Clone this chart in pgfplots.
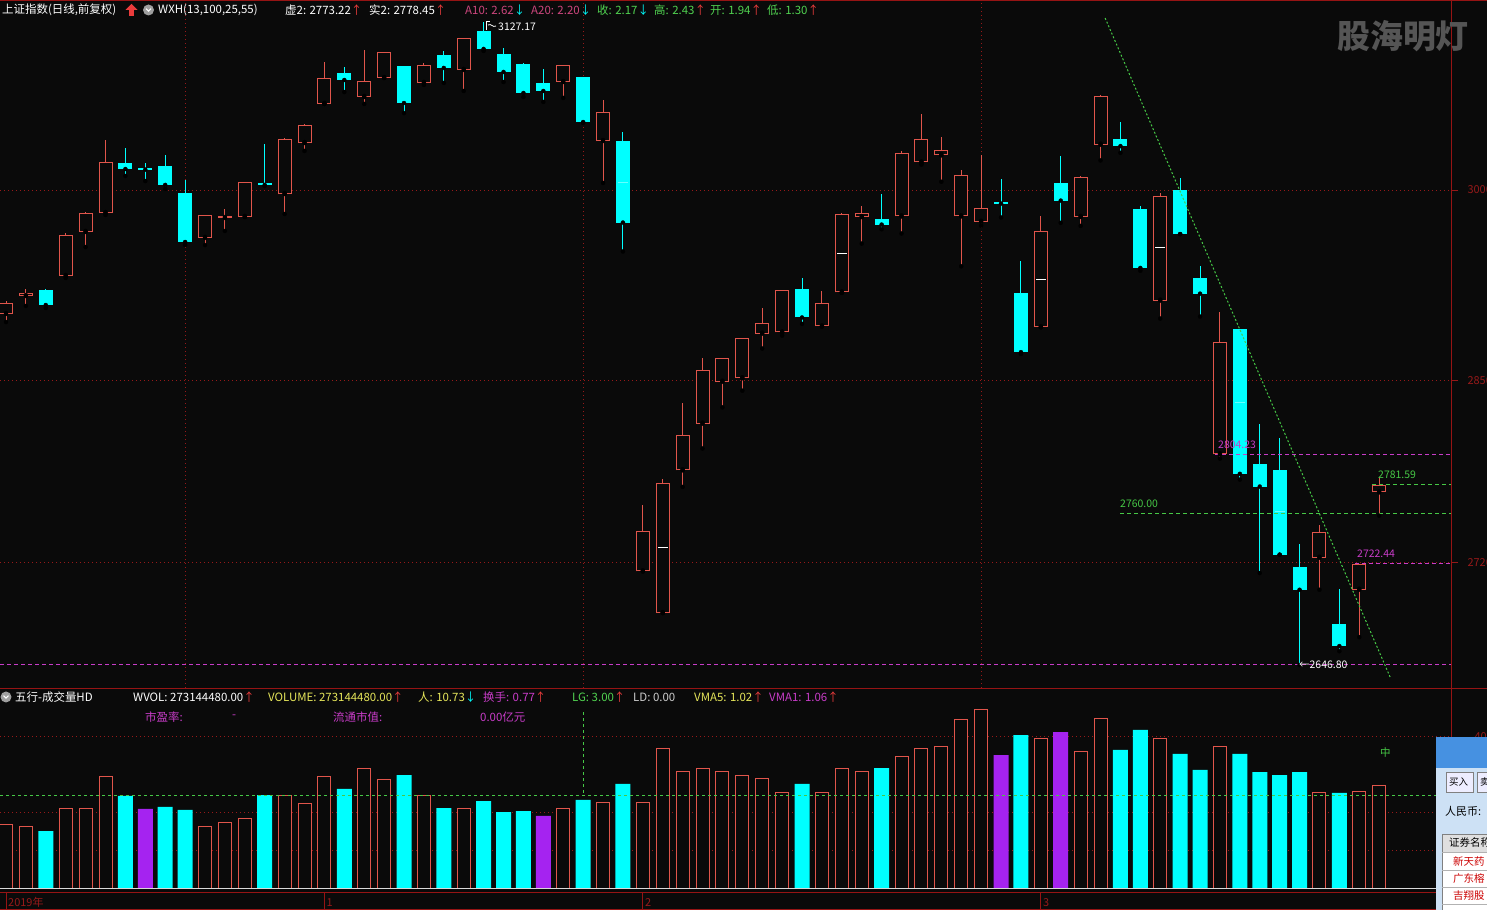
\documentclass[border=0pt]{standalone}
\usepackage{fontspec}
\setmainfont{Noto Sans CJK SC}
\usepackage{pgfplots}
\pgfplotsset{compat=1.18}
\usepackage{pgfplotstable}
\definecolor{bg}{RGB}{10,10,10}
\definecolor{cred}{RGB}{225,85,75}
\definecolor{ccyan}{RGB}{0,255,255}
\definecolor{cpurple}{RGB}{165,35,240}
\definecolor{gridred}{RGB}{150,25,25}
\definecolor{linered}{RGB}{150,20,20}
\definecolor{dgreen}{RGB}{70,200,70}
\definecolor{dmag}{RGB}{200,60,200}
\definecolor{tpink}{RGB}{205,70,125}
\definecolor{tgreen}{RGB}{80,210,80}
\definecolor{tyellow}{RGB}{230,230,90}
\definecolor{tmag}{RGB}{200,60,200}
\definecolor{arrred}{RGB}{235,60,60}
\definecolor{wmgray}{RGB}{85,85,85}
\definecolor{winblue}{RGB}{70,145,225}
\definecolor{winbody}{RGB}{205,225,245}

% up days (open, high, low, close)
\pgfplotstableread{
i o h l c
1 2909.0 2918.7 2903.0 2917.2
2 2922.4 2927.7 2915.0 2924.7
4 2937.4 2969.5 2935.9 2968.0
5 2970.3 2985.2 2959.0 2984.4
6 2984.4 3039.0 2983.0 3022.5
11 2965.8 2983.0 2960.5 2983.0
12 2980.7 2987.4 2971.0 2982.2
13 2981.5 3007.6 2981.5 3007.6
15 2998.6 3040.5 2983.7 3039.7
16 3036.7 3050.9 3030.8 3050.2
17 3065.9 3097.2 3065.9 3085.3
19 3071.1 3106.2 3065.9 3083.1
20 3085.3 3104.7 3085.3 3104.7
22 3081.6 3096.5 3080.1 3095.0
24 3091.3 3115.2 3075.6 3115.2
29 3082.3 3095.0 3070.4 3095.0
31 3038.2 3068.9 3006.9 3059.9
33 2716.7 2766.3 2716.7 2746.6
34 2685.6 2785.7 2685.6 2783.1
35 2792.2 2842.5 2779.8 2818.3
36 2827.1 2876.1 2808.5 2866.9
37 2858.4 2876.0 2839.2 2876.0
38 2861.0 2890.9 2851.7 2890.9
39 2894.4 2913.6 2883.2 2902.1
40 2895.2 2926.9 2892.8 2926.6
42 2899.7 2926.2 2899.7 2917.1
43 2925.1 2984.5 2924.7 2983.5
44 2981.4 2989.7 2961.6 2984.8
46 2981.9 3030.5 2969.1 3029.6
47 3022.2 3058.5 3020.6 3039.5
48 3027.5 3041.2 3007.8 3031.2
49 2981.9 3016.3 2944.6 3012.5
50 2977.9 3027.8 2975.0 2988.0
53 2899.1 2982.2 2899.1 2970.7
55 2981.5 3012.1 2974.8 3011.7
56 3035.5 3072.7 3023.7 3071.6
59 2919.0 2999.5 2905.6 2997.1
62 2804.2 2910.6 2801.0 2887.9
67 2726.9 2751.6 2703.0 2745.8
69 2703.0 2722.5 2667.6 2722.5
70 2775.7 2786.5 2758.3 2781.5
}\uptab

% down days (open, high, low, close)
\pgfplotstableread{
i o h l c
3 2926.9 2927.3 2913.5 2915.7
7 3021.8 3033.0 3012.1 3017.3
8 3017.7 3021.8 3008.3 3016.9
9 3019.6 3027.8 3002.4 3005.4
10 2999.4 3009.1 2960.5 2962.8
14 3006.9 3036.0 3004.6 3005.4
18 3089.0 3093.5 3074.8 3083.8
21 3094.3 3094.3 3059.1 3066.6
23 3102.5 3105.5 3081.6 3092.8
25 3120.4 3127.17 3105.5 3107.0
26 3103.2 3107.7 3082.3 3089.8
27 3095.7 3096.5 3071.1 3074.1
28 3081.6 3092.0 3067.4 3075.6
30 3086.0 3086.0 3051.7 3052.4
32 3038.2 3045.0 2955.7 2977.3
41 2927.7 2936.0 2901.6 2906.4
45 2980.0 2998.4 2972.3 2975.8
51 2992.3 3009.6 2981.1 2991.5
52 2924.5 2948.3 2879.1 2880.5
54 3006.8 3027.1 2977.1 2993.7
57 3039.6 3052.4 3029.4 3034.4
58 2987.3 2989.3 2941.3 2943.4
60 3001.6 3010.3 2968.7 2968.7
61 2935.9 2944.9 2907.1 2924.2
63 2897.8 2897.8 2785.3 2789.6
64 2796.6 2827.1 2715.5 2780.1
65 2792.2 2816.4 2729.2 2729.2
66 2719.9 2737.0 2646.8 2703.0
68 2677.7 2703.6 2657.1 2660.9
}\downtab

% volumes
\pgfplotstableread{
i v
1 1684
2 1631
4 2130
5 2130
6 2946
11 1631
12 1762
13 1867
15 2472
16 2236
17 2946
19 3156
20 2867
22 2446
24 2130
29 2130
31 2262
33 2262
34 3682
35 3103
36 3182
37 3103
38 2998
39 2893
40 2525
42 2525
43 3156
44 3103
46 3472
47 3708
48 3735
49 4445
50 4708
53 3971
55 3629
56 4497
59 3971
62 3735
67 2525
69 2577
70 2735
}\volred

\pgfplotstableread{
i v
3 1525
7 2446
9 2157
10 2078
14 2472
18 2630
21 2998
23 2130
25 2314
26 2025
27 2051
30 2341
32 2762
41 2762
45 3182
52 4050
57 3656
58 4182
60 3551
61 3130
63 3551
64 3077
65 2998
66 3077
68 2525
}\volcyan

\pgfplotstableread{
i v
8 2104
28 1920
51 3524
54 4129
}\volpurple

\begin{document}
\begin{tikzpicture}[font=\fontsize{11.5}{13}\selectfont]
\useasboundingbox (0bp,0bp) rectangle (1487bp,910bp);
\fill[bg] (0bp,0bp) rectangle (1487bp,910bp);

% ---------------- price panel ----------------
\begin{axis}[at={(0bp,222bp)}, anchor=south west, scale only axis,
  width=1451bp, height=688bp,
  xmin=0.6985, xmax=73.611, ymin=2629.6, ymax=3143.56,
  axis line style={draw=none},
  xtick={10,30,50}, xticklabels={}, xmajorgrids, xtick style={draw=none},
  ytick={2723.0,2858.95,3001.6}, yticklabels={2720,2850,3000},
  ytick pos=right, ymajorgrids, tick align=outside, major tick length=7bp,
  ytick style={draw=gridred, line width=1bp},
  yticklabel style={text=gridred, font=\fontsize{11}{12}\selectfont, xshift=6bp},
  grid style={gridred, line width=1bp, dash pattern=on 1bp off 3bp},
]
% wicks
\addplot[only marks, mark=none, error bars/.cd, y dir=plus, y explicit, error mark=none,
  error bar style={draw=cred, line width=1bp}]
  table[x=i, y=l, y error expr=\thisrow{h}-\thisrow{l}] {\uptab};
\addplot[only marks, mark=none, error bars/.cd, y dir=plus, y explicit, error mark=none,
  error bar style={draw=ccyan, line width=1bp}]
  table[x=i, y=l, y error expr=\thisrow{h}-\thisrow{l}] {\downtab};
% up bodies (hollow)
\addplot[only marks, mark=none, error bars/.cd, y dir=plus, y explicit, error mark=none,
  error bar style={draw=cred, line width=14bp}]
  table[x=i, y=o, y error expr=\thisrow{c}-\thisrow{o}] {\uptab};
\addplot[only marks, mark=none, error bars/.cd, y dir=plus, y explicit, error mark=none,
  error bar style={draw=bg, line width=12bp}]
  table[x=i, y expr=\thisrow{o}+0.75, y error expr={max(\thisrow{c}-\thisrow{o}-1.5,0)}] {\uptab};
% down bodies (filled)
\addplot[only marks, mark=none, error bars/.cd, y dir=plus, y explicit, error mark=none,
  error bar style={draw=ccyan, line width=14bp}]
  table[x=i, y=c, y error expr=\thisrow{o}-\thisrow{c}] {\downtab};
% mid marks
\addplot[only marks, mark=-, mark size=5bp, white, mark options={line width=1bp}]
  coordinates {(34,2734.9) (43,2954.4) (53,2934.9) (59,2958.3)};
\addplot[only marks, mark=-, mark size=5bp, white!40!ccyan, mark options={line width=1bp}]
  coordinates {(32,3007.2) (63,2843.1) (65,2761.1)};
% reference lines
\addplot[dmag, line width=1bp, dash pattern=on 4bp off 3bp] coordinates {(0.6985,2646.8) (73.611,2646.8)};
\addplot[dmag, line width=1bp, dash pattern=on 4bp off 3bp] coordinates {(61.75,2804.23) (73.611,2804.23)};
\addplot[dgreen, line width=1bp, dash pattern=on 4bp off 3bp] coordinates {(56.98,2760) (73.611,2760)};
\addplot[dgreen, line width=1bp, dash pattern=on 4bp off 3bp] coordinates {(69.64,2781.59) (73.611,2781.59)};
\addplot[dmag, line width=1bp, dash pattern=on 4bp off 3bp] coordinates {(68.79,2722.44) (73.611,2722.44)};
\addplot[dgreen, line width=1bp, dash pattern=on 2bp off 2bp] coordinates {(56.23,3130.1) (70.55,2637.8)};
\end{axis}

% ---------------- volume panel ----------------
\begin{axis}[at={(0bp,17bp)}, anchor=south west, scale only axis,
  width=1451bp, height=205bp,
  xmin=0.6985, xmax=73.611, ymin=-105.2, ymax=5286.3,
  axis line style={draw=none},
  xtick={1,17,33,53}, xticklabels={2019年,1,2,3}, xtick pos=bottom,
  tick align=outside, major tick length=16bp,
  xtick style={draw=linered, line width=1bp},
  xticklabel style={text=gridred, anchor=base west, inner sep=0pt, xshift=2bp, yshift=3bp,
     font=\fontsize{11}{12}\selectfont},
  ytick={1000,2000,4000}, yticklabels={{},{},4000}, ytick pos=right,
  ytick style={draw=none}, ymajorgrids,
  yticklabel style={text=gridred, font=\fontsize{11}{12}\selectfont, xshift=4bp},
  grid style={gridred, line width=1bp, dash pattern=on 1bp off 3bp},
]
\addplot[ybar, bar width=13bp, bar shift=0pt, draw=cred, line width=1bp, fill=bg] table[x=i, y=v] {\volred};
\addplot[ybar, bar width=15bp, bar shift=0pt, draw=none, fill=ccyan] table[x=i, y=v] {\volcyan};
\addplot[ybar, bar width=15bp, bar shift=0pt, draw=none, fill=cpurple] table[x=i, y=v] {\volpurple};
\addplot[dgreen, line width=1bp, dash pattern=on 3bp off 3bp] coordinates {(0.6985,2472) (73.611,2472)};
\addplot[dgreen, line width=1bp, dash pattern=on 3bp off 3bp] coordinates {(30,4655) (30,2472)};
\end{axis}

% ---------------- decorations ----------------
\begin{scope}[x=1bp, y=1bp]
\draw[linered, line width=1.5bp] (0,909.3) -- (1487,909.3);
\draw[linered, line width=1.5bp] (0,221.5) -- (1487,221.5);
\draw[linered, line width=1bp] (0,17) -- (1487,17);
\draw[linered, line width=1bp] (0,1) -- (1487,1);
\draw[linered, line width=1bp] (1451.5,17) -- (1451.5,910);
\draw[white!85!black, line width=1bp] (0,21) -- (1451,21);

% watermark
\node[text=wmgray, font=\fontsize{33}{34}\selectfont\bfseries] at (1403,874) {股海明灯};

% header row (price)
\begin{scope}[every node/.style={anchor=west, inner sep=0pt}]
\node[text=white] at (2,900) {上证指数(日线,前复权)};
\fill[arrred] (131.5,906) -- (137.5,900) -- (133.8,900) -- (133.8,894) -- (129.2,894) -- (129.2,900) -- (125.5,900) -- cycle;
\fill[gray!75] (148.5,900) circle (5.5);
\draw[white, line width=1bp] (146,901.3) -- (148.5,898.8) -- (151,901.3);
\node[text=white] at (158,900) {WXH(13,100,25,55)};
\node[text=white] at (285,900) {虚2: 2773.22\textcolor{arrred}{↑}};
\node[text=white] at (369,900) {实2: 2778.45\textcolor{arrred}{↑}};
\node[text=tpink] at (465,900) {A10: 2.62\textcolor{ccyan}{↓}};
\node[text=tpink] at (531,900) {A20: 2.20\textcolor{ccyan}{↓}};
\node[text=tgreen] at (597,900) {收: 2.17\textcolor{ccyan}{↓}};
\node[text=tgreen] at (654,900) {高: 2.43\textcolor{arrred}{↑}};
\node[text=tgreen] at (710,900) {开: 1.94\textcolor{arrred}{↑}};
\node[text=tgreen] at (767,900) {低: 1.30\textcolor{arrred}{↑}};

% header rows (volume)
\fill[gray!75] (6,213) circle (5.5);
\draw[white, line width=1bp] (3.5,214.3) -- (6,211.8) -- (8.5,214.3);
\node[text=white] at (15,213) {五行-成交量HD};
\node[text=white] at (133,213) {WVOL: 273144480.00\textcolor{arrred}{↑}};
\node[text=tyellow] at (268,213) {VOLUME: 273144480.00\textcolor{arrred}{↑}};
\node[text=tyellow] at (418,213) {人: 10.73\textcolor{ccyan}{↓}};
\node[text=tmag] at (483,213) {换手: 0.77\textcolor{arrred}{↑}};
\node[text=tgreen] at (572,213) {LG: 3.00\textcolor{arrred}{↑}};
\node[text=white!80!black] at (633,213) {LD: 0.00};
\node[text=tyellow] at (694,213) {VMA5: 1.02\textcolor{arrred}{↑}};
\node[text=tmag] at (769,213) {VMA1: 1.06\textcolor{arrred}{↑}};
\node[text=tmag] at (145,193) {市盈率:};
\node[text=tmag] at (232,193) {-};
\node[text=tmag] at (333,193) {流通市值:};
\node[text=tmag] at (480,193) {0.00亿元};

% value annotations
\begin{scope}[every node/.append style={font=\fontsize{10.5}{12}\selectfont}]
\draw[white, line width=0.8bp] (486,880) -- (486,889) -- (490,889);
\draw[white, line width=0.8bp] (488,885) .. controls (491,887) and (493,882) .. (496,884);
\node[text=white] at (498,883) {3127.17};
\node[text=white] at (1299,245) {←2646.80};
\node[text=dmag] at (1218,465) {2804.23};
\node[text=dgreen] at (1120,406) {2760.00};
\node[text=dgreen] at (1378,435) {2781.59};
\node[text=dmag] at (1357,356) {2722.44};
\node[text=dgreen] at (1380,157) {中};
\end{scope}

% trading window overlay
\fill[winblue] (1436,142) rectangle (1487,173);
\fill[winbody] (1436,0) rectangle (1487,142);
\draw[gray, fill=white!93!blue] (1446,118) rectangle (1473,138);
\node[text=black, font=\fontsize{9.5}{10}\selectfont] at (1449,128) {买入};
\draw[gray, fill=white!93!blue] (1477,118) rectangle (1500,138);
\node[text=black, font=\fontsize{9.5}{10}\selectfont] at (1480,128) {卖出};
\node[text=black, font=\fontsize{11}{12}\selectfont] at (1445,99) {人民币:};
\fill[white] (1442,0) rectangle (1495,76);
\fill[gray!25] (1442,58) rectangle (1495,76);
\draw[gray] (1442,0) -- (1442,76) -- (1495,76);
\draw[gray!60] (1442,58) -- (1495,58) (1442,40) -- (1495,40) (1442,23) -- (1495,23) (1442,6) -- (1495,6);
\node[text=black, font=\fontsize{10.5}{12}\selectfont] at (1449,67) {证券名称};
\node[text=red!80!black, font=\fontsize{10.5}{12}\selectfont] at (1453,49) {新天药};
\node[text=red!80!black, font=\fontsize{10.5}{12}\selectfont] at (1453,31) {广东榕};
\node[text=red!80!black, font=\fontsize{10.5}{12}\selectfont] at (1453,14) {吉翔股};
\end{scope}
\end{scope}
\end{tikzpicture}
\end{document}
